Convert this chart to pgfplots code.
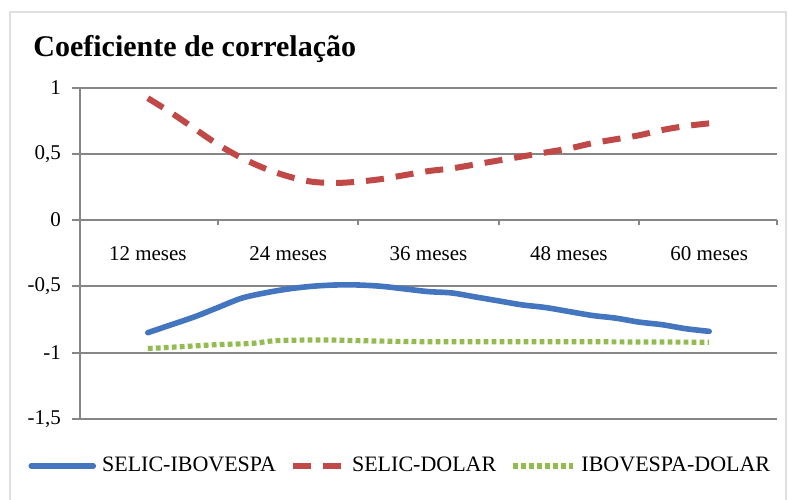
\documentclass[border=0pt]{standalone}
\usepackage{fontspec}
\setmainfont{Liberation Serif}
\usepackage{pgfplots}
\pgfplotsset{compat=1.18}

\definecolor{gridgray}{RGB}{134,134,134}
\definecolor{selicibov}{RGB}{68,118,192}
\definecolor{selicdol}{RGB}{192,72,70}
\definecolor{ibovdol}{RGB}{146,188,80}

\pgfplotsset{
    leg30/.style={legend image code/.code={\draw[##1] (0pt,0pt) -- (31pt,0pt);}},
    leg24/.style={legend image code/.code={\draw[##1] (0pt,0pt) -- (25pt,0pt);}},
    leg29/.style={legend image code/.code={\draw[##1] (0pt,0pt) -- (30pt,0pt);}},
}

\begin{document}
\begin{tikzpicture}
\useasboundingbox (0,0) rectangle (394pt,249.5pt);
% moldura clara do grafico
\draw[gray!25, line width=0.8pt] (5pt,-5pt) rectangle (393pt,243.5pt);
\node[anchor=base west, inner sep=0pt, font=\fontsize{15}{18}\selectfont\bfseries]
  at (16.5pt,221pt) {Coeficiente de correlação};

\begin{axis}[
    at={(40pt,40.1pt)}, anchor=south west,
    scale only axis, width=348.5pt, height=165.6pt,
    xmin=6.2, xmax=65.8, ymin=-1.5, ymax=1,
    clip=false, no markers,
    axis x line*=middle, axis y line*=left,
    axis line style={gridgray, line width=1pt},
    hide obscured y ticks=false,
    xtick={12,24,36,48,60},
    xticklabels={12 meses, 24 meses, 36 meses, 48 meses, 60 meses},
    minor xtick={18,30,42,54,65.8},
    major x tick style={draw=none},
    minor x tick style={gridgray, line width=1pt},
    minor tick length=2.5pt,
    xticklabel style={yshift=-5.5pt},
    ytick={-1.5,-1,-0.5,0,0.5,1},
    yticklabels={{-1,5},{-1},{-0,5},0,{0,5},1},
    yticklabel style={xshift=-2pt},
    ytick style={gridgray, line width=1pt},
    tick align=outside, major tick length=4pt,
    ymajorgrids, major grid style={gridgray, line width=1pt},
    ticklabel style={font=\fontsize{10.5}{12}\selectfont},
    legend style={draw=none, fill=none, legend columns=-1,
        at={(0.461,-0.1425)}, anchor=center,
        font=\fontsize{11}{12}\selectfont,
        /tikz/every odd column/.append style={column sep=1pt},
        /tikz/every even column/.append style={column sep=5pt}},
]

\addplot[selicibov, line width=2.8pt, line cap=round, smooth, leg30]
coordinates {
    (12,-0.85) (14,-0.79) (16,-0.73) (18,-0.66) (20,-0.59) (22,-0.55)
    (24,-0.52) (26,-0.50) (28,-0.49) (30,-0.49) (32,-0.50) (34,-0.52)
    (36,-0.54) (38,-0.55) (40,-0.58) (42,-0.61) (44,-0.64) (46,-0.66)
    (48,-0.69) (50,-0.72) (52,-0.74) (54,-0.77) (56,-0.79) (58,-0.82)
    (60,-0.84)
};

\addplot[selicdol, line width=3pt, dash pattern=on 9pt off 6pt, smooth, leg24]
coordinates {
    (12,0.92) (14,0.81) (16,0.69) (18,0.57) (20,0.47) (22,0.39)
    (24,0.33) (26,0.29) (28,0.28) (30,0.29) (32,0.31) (34,0.34)
    (36,0.37) (38,0.39) (40,0.42) (42,0.45) (44,0.48) (46,0.51)
    (48,0.54) (50,0.58) (52,0.61) (54,0.64) (56,0.68) (58,0.71)
    (60,0.73)
};

\addplot[ibovdol, line width=2.6pt, dash pattern=on 2.4pt off 1.6pt, smooth, leg29]
coordinates {
    (12,-0.97) (15,-0.955) (18,-0.94) (21,-0.93) (23,-0.91) (27,-0.905)
    (30,-0.91) (33,-0.915) (36,-0.918) (42,-0.918) (48,-0.918)
    (54,-0.92) (60,-0.922)
};

\legend{SELIC-IBOVESPA, SELIC-DOLAR, IBOVESPA-DOLAR}
\end{axis}
\end{tikzpicture}
\end{document}
